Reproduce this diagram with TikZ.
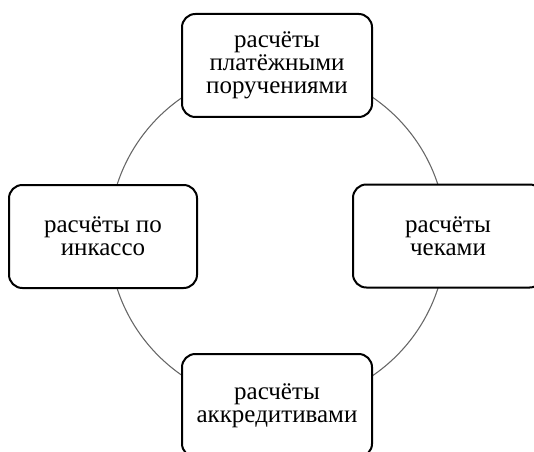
\documentclass[tikz,border=0pt]{standalone}
\usepackage{fontspec}
\setmainfont{Liberation Serif}
\begin{document}
\begin{tikzpicture}[x=0.75pt,y=-0.75pt,
  boxnode/.style={draw=black, line width=1.5pt, fill=white, rounded corners=10pt,
    minimum width=142.5pt, minimum height=77.25pt, inner sep=0pt, align=center,
    font=\fontsize{18.75}{17.25}\selectfont},
  ringline/.style={draw=black!60, line width=0.8pt}]
\useasboundingbox (0,0) rectangle (534,452);
\begin{scope}
\clip (0,0) rectangle (534,452);
\coordinate (ctr) at (277.5,236.5);
\draw[ringline] (ctr) circle[radius=126.4pt];
\node[boxnode] (top) at (277,65.5) {расчёты\\платёжными\\поручениями};
\node[boxnode, minimum width=141pt] (left) at (103,236.5) {расчёты по\\инкассо};
\node[boxnode] (right) at (448,236) {расчёты\\чеками};
\node[boxnode] (bottom) at (277,405.5) {расчёты\\аккредитивами};
\end{scope}
\end{tikzpicture}
\end{document}
